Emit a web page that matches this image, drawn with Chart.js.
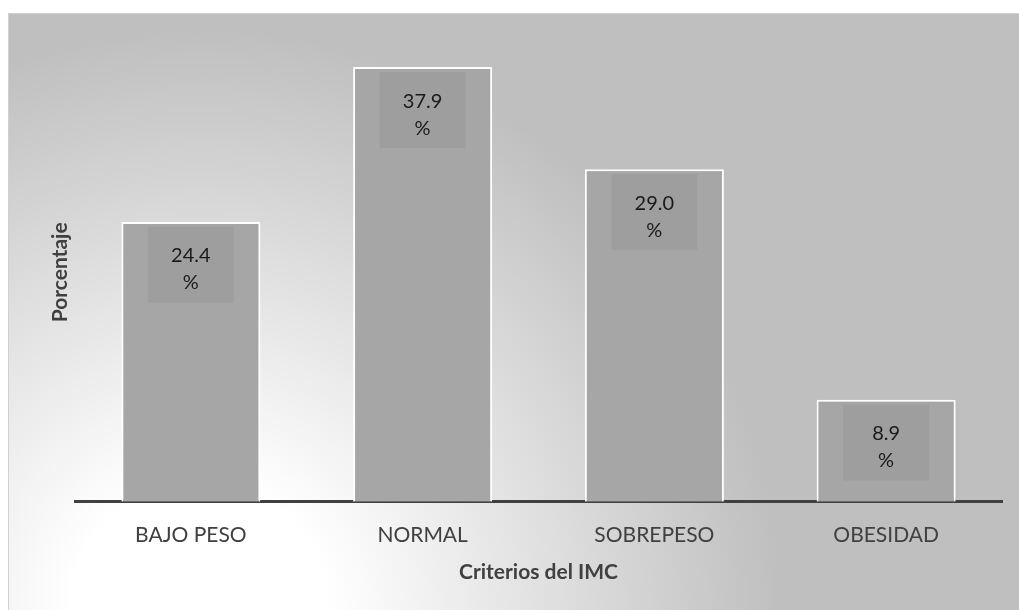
<!DOCTYPE html>
<html>
<head>
<meta charset="utf-8">
<script src="https://cdn.jsdelivr.net/npm/chart.js@4/dist/chart.umd.min.js"></script>
<style>
html,body{margin:0;padding:0;background:#fff;}
canvas{display:block;}
</style>
</head>
<body>
<canvas id="c" width="1019" height="610"></canvas>
<script>
const categories = ['BAJO PESO', 'NORMAL', 'SOBREPESO', 'OBESIDAD'];
const percentages = [24.4, 37.9, 29.0, 8.9];
const yTicks = [0, 40];
const xTitle = 'Criterios del IMC';
const yTitle = 'Porcentaje';

const bgPlugin = {
  id: 'bg',
  beforeDraw(chart) {
    const ctx = chart.ctx;
    ctx.save();
    ctx.fillStyle = '#ffffff';
    ctx.fillRect(0, 0, chart.width, chart.height);
    const g = ctx.createRadialGradient(200, 610, 0, 200, 610, 580);
    g.addColorStop(0, '#ffffff');
    g.addColorStop(0.22, '#ffffff');
    g.addColorStop(1, '#bfbfbf');
    ctx.fillStyle = g;
    ctx.fillRect(8, 13, chart.width - 8, chart.height - 13);
    ctx.strokeStyle = '#d0d0d0';
    ctx.lineWidth = 1;
    ctx.beginPath();
    ctx.moveTo(8.5, chart.height);
    ctx.lineTo(8.5, 13.5);
    ctx.lineTo(chart.width, 13.5);
    ctx.stroke();
    ctx.restore();
  }
};

const labelPlugin = {
  id: 'boxLabels',
  afterDatasetsDraw(chart) {
    const ctx = chart.ctx;
    const meta = chart.getDatasetMeta(0);
    ctx.save();
    meta.data.forEach((bar, i) => {
      const w = 86, h = 76;
      const cx = bar.x;
      const top = bar.y + 5;
      ctx.fillStyle = 'rgba(0,0,0,0.045)';
      ctx.fillRect(cx - w / 2, top, w, h);
      ctx.fillStyle = '#1a1a1a';
      ctx.font = '20px Lato';
      ctx.textAlign = 'center';
      ctx.textBaseline = 'middle';
      const mid = top + h / 2;
      ctx.fillText(percentages[i].toFixed(1), cx, mid - 9);
      ctx.fillText('%', cx, mid + 18);
    });
    ctx.restore();
  }
};

new Chart(document.getElementById('c'), {
  type: 'bar',
  data: {
    labels: categories,
    datasets: [{
      data: percentages,
      backgroundColor: '#a6a6a6',
      borderColor: '#ffffff',
      borderWidth: 2,
      borderSkipped: 'bottom',
      barPercentage: 0.6,
      categoryPercentage: 1.0
    }]
  },
  options: {
    responsive: false,
    animation: false,
    layout: { padding: { left: 45, right: 17, top: 43, bottom: 13.7 } },
    plugins: { legend: { display: false }, tooltip: { enabled: false } },
    scales: {
      x: {
        grid: { display: false, drawTicks: false },
        border: { display: true, color: '#404040', width: 3 },
        ticks: { color: '#404040', font: { family: 'Lato', size: 21 }, padding: 21, maxRotation: 0 },
        title: { display: true, text: xTitle, color: '#404040', font: { family: 'Lato', size: 21, weight: 'bold' }, padding: { top: 11.7, bottom: 11.7 } },
        afterFit(scale) { scale.height = 94.6; }
      },
      y: {
        min: yTicks[0],
        max: yTicks[1],
        grid: { display: false, drawTicks: false },
        border: { display: false },
        ticks: { display: false },
        title: { display: true, text: yTitle, color: '#404040', font: { family: 'Lato', size: 21, weight: 'bold' }, padding: { top: 2.4, bottom: 2.4 } }
      }
    }
  },
  plugins: [bgPlugin, labelPlugin]
});
</script>
</body>
</html>
